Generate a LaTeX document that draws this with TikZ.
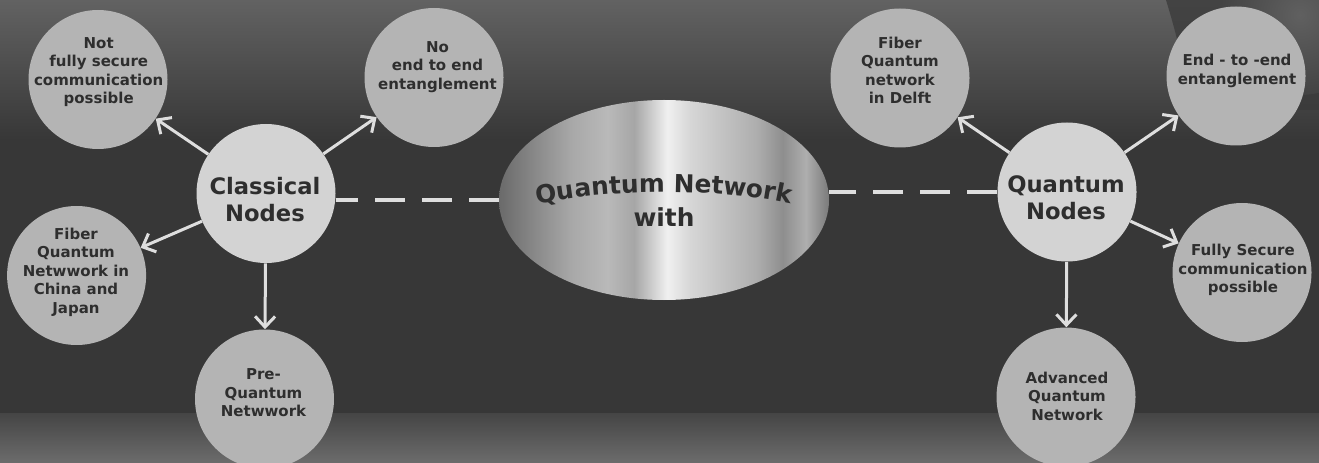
\documentclass[tikz,border=0pt]{standalone}
\usepackage{fontspec}
\setmainfont{DejaVu Sans}
\usetikzlibrary{arrows.meta,shapes.geometric,decorations.text}
\definecolor{bgmain}{HTML}{373737}
\definecolor{bgtop}{HTML}{626262}
\definecolor{bgbotA}{HTML}{454545}
\definecolor{bgbotB}{HTML}{6C6C6C}
\definecolor{trA}{HTML}{434343}
\definecolor{trB}{HTML}{3B3B3B}
\definecolor{glow}{HTML}{606060}
\definecolor{outerfill}{HTML}{B4B4B4}
\definecolor{innerfill}{HTML}{D3D3D3}
\definecolor{txt}{HTML}{2E2E2E}
\definecolor{linec}{HTML}{DEDEDE}
\definecolor{mA}{HTML}{6A6A6A}
\definecolor{mB}{HTML}{8C8C8C}
\definecolor{mC}{HTML}{A8A8A8}
\definecolor{mD}{HTML}{B9B9B9}
\definecolor{mE}{HTML}{A6A6A6}
\definecolor{mF}{HTML}{F0F0F0}
\definecolor{mG}{HTML}{D6D6D6}
\definecolor{mH}{HTML}{C2C2C2}
\definecolor{mI}{HTML}{AEAEAE}
\definecolor{mJ}{HTML}{8E8E8E}
\definecolor{mK}{HTML}{AEAEAE}
\definecolor{mL}{HTML}{7A7A7A}
\pgfdeclarehorizontalshading{metal}{100bp}{color(0bp)=(mA); color(25bp)=(mA); color(31bp)=(mB); color(36bp)=(mC); color(41.5bp)=(mD); color(45.5bp)=(mE); color(50.5bp)=(mF); color(54bp)=(mG); color(59bp)=(mH); color(64bp)=(mI); color(68bp)=(mJ); color(71.5bp)=(mK); color(75bp)=(mL); color(100bp)=(mL)}
\newcommand\cfontsz{\fontsize{18.6pt}{22pt}\selectfont\bfseries}
\tikzset{
  outercirc/.style={circle, fill=outerfill, minimum size=104.25pt, inner sep=0pt},
  innercirc/.style={circle, fill=innerfill, minimum size=104.25pt, inner sep=0pt},
  stxt/.style={text=txt, font=\fontsize{11.25pt}{13.9pt}\selectfont\bfseries, align=center, inner sep=0pt},
  btxt/.style={text=txt, font=\fontsize{17pt}{20.25pt}\selectfont\bfseries, align=center, inner sep=0pt},
  arr/.style={draw=linec, line width=2.25pt, -{Straight Barb[length=8pt,width=15pt]}},
  dsh/.style={draw=linec, line width=3pt, dash pattern=on 22.5pt off 12.75pt},
}
\begin{document}
\begin{tikzpicture}[x=0.75pt,y=0.75pt]
\useasboundingbox (0,0) rectangle (1319,-463);
\clip (0,0) rectangle (1319,-463);
% background
\fill[bgmain] (0,0) rectangle (1319,-463);
\shade[top color=bgtop, bottom color=bgmain] (0,0) rectangle (1319,-140);
\begin{scope}
  \clip (1166,0) .. controls (1172,-20) and (1180,-45) .. (1192,-110) -- (1319,-110) -- (1319,0) -- cycle;
  \shade[top color=trA, bottom color=trB] (1150,0) rectangle (1319,-110);
  \shade[inner color=glow, outer color=trA] (1300,-15) circle (80);
\end{scope}
\shade[top color=bgbotA, bottom color=bgbotB] (0,-413) rectangle (1319,-463);

% central ellipse
\node[ellipse, shading=metal, minimum width=247.5pt, minimum height=150pt, inner sep=0pt] (central) at (664,-200) {};
\path[decorate, decoration={text along path, text align=center, text color=txt,
  text={|\cfontsz|Quantum Network}}]
  (530,-206) .. controls (600,-188) and (730,-188) .. (798,-206);
\node[text=txt, font=\cfontsz, inner sep=0pt, anchor=base] (withtxt) at (664,-227) {with};

% circles
\node[innercirc] (classical) at (266,-193.5) {};
\node[outercirc] (notsec) at (98,-79.5) {};
\node[outercirc] (noend) at (434,-77.5) {};
\node[outercirc] (fibcn) at (76.6,-275.5) {};
\node[outercirc] (pre) at (264.5,-399) {};
\node[innercirc] (qnodes) at (1067,-192) {};
\node[outercirc] (delft) at (900,-78) {};
\node[outercirc] (e2e) at (1236,-76) {};
\node[outercirc] (fully) at (1242,-272.5) {};
\node[outercirc] (adv) at (1066,-397) {};

% labels
\node[btxt] (tclassical) at (265,-199.5) {Classical\\Nodes};
\node[stxt] (tnotsec) at (98.7,-72) {Not\\fully secure\\communication\\possible};
\node[stxt] (tnoend) at (437.5,-67) {No\\end to end\\entanglement};
\node[stxt] (tfibcn) at (76,-272) {Fiber\\Quantum\\Netwwork in\\China and\\Japan};
\node[stxt] (tpre) at (263.5,-393) {Pre-\\Quantum\\Netwwork};
\node[btxt] (tqnodes) at (1066,-198) {Quantum\\Nodes};
\node[stxt] (tdelft) at (900,-70.5) {Fiber\\Quantum\\network\\in Delft};
\node[stxt] (te2e) at (1237,-71) {End - to -end\\entanglement};
\node[stxt] (tfully) at (1243,-270) {Fully Secure\\communication\\possible};
\node[stxt] (tadv) at (1067,-396) {Advanced\\Quantum\\Network};

% dashed connectors
\draw[dsh] (central.west) -- (classical.east |- central.west);
\draw[dsh] (qnodes.west) -- (central.east |- qnodes.west);

% arrows
\draw[arr] (classical) -- (notsec);
\draw[arr] (classical) -- (noend);
\draw[arr] (classical) -- (fibcn);
\draw[arr] (classical) -- (pre);
\draw[arr] (qnodes) -- (delft);
\draw[arr] (qnodes) -- (e2e);
\draw[arr] (qnodes) -- (fully);
\draw[arr] (qnodes) -- (adv);
\end{tikzpicture}
\end{document}
